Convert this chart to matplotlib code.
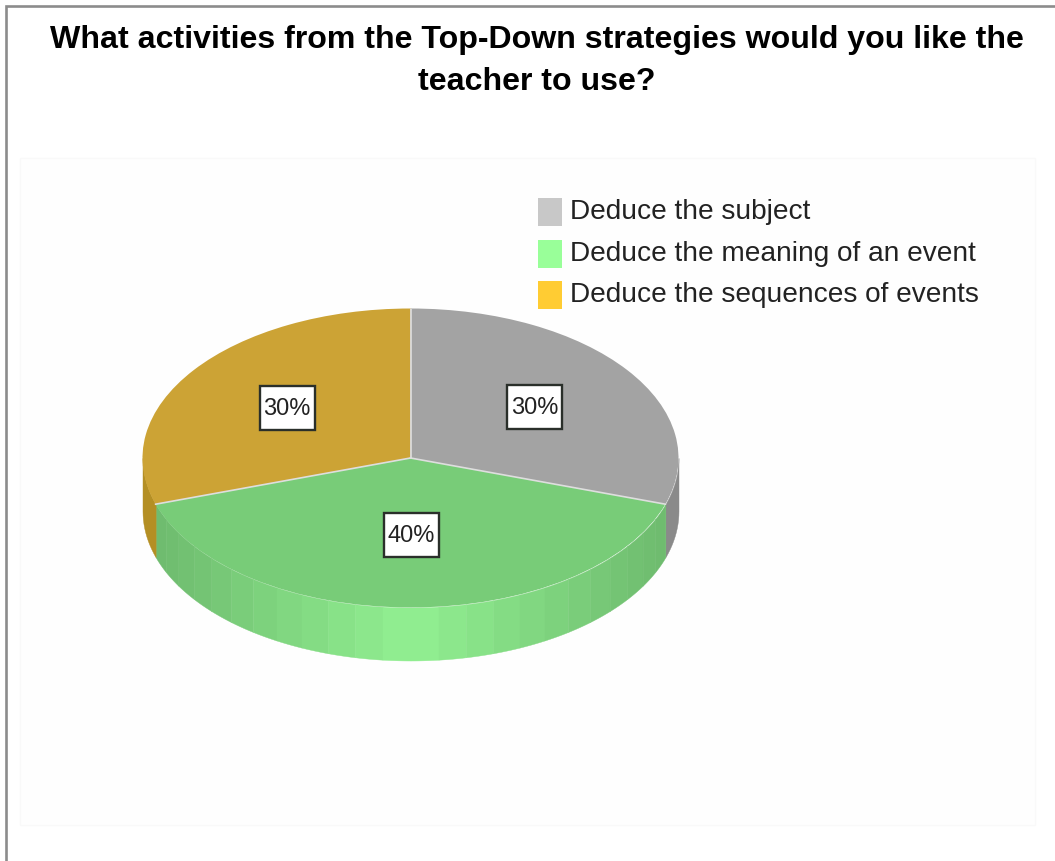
import numpy as np
import matplotlib
matplotlib.use("Agg")
import matplotlib.pyplot as plt
from matplotlib.patches import Rectangle

W = 1055
H = 861

categories = ["Deduce the subject", "Deduce the meaning of an event", "Deduce the sequences of events"]
values = [30, 40, 30]
labels = ["30%", "40%", "30%"]
legend_colors = ["#C8C8C8", "#99FF99", "#FFCC33"]
top_colors = ["#A3A3A3", "#78CC78", "#CCA335"]
side_colors = ["#8A8A8A", None, "#B48F24"]

TITLE = "What activities from the Top-Down strategies would you like the\nteacher to use?"
FONT = "Liberation Sans"


def pixel_axes(fig, zorder):
    # whole page in pixel coordinates, y pointing down
    ax = fig.add_axes([0, 0, 1, 1], zorder=zorder)
    ax.set_xlim(0, W)
    ax.set_ylim(H, 0)
    ax.axis("off")
    return ax


fig = plt.figure(figsize=(W / 100, H / 100), dpi=100)

back = pixel_axes(fig, 0)
back.add_patch(Rectangle((20, 158), 1015, 667, fc="#FEFEFE", ec="#F9F9F9", lw=1))
back.plot([6, 6, W], [H, 6, 6], color="#8C8C8C", lw=1.9, solid_joinstyle="miter")
back.text(537, 61, TITLE, ha="center", va="center", fontsize=23.15, fontweight="bold",
          family=FONT, color="black", linespacing=1.53)

# pie lives in its own axes, stretched to the ellipse of the top face
CX, CY, RX, RY, DEPTH = 410.5, 458, 268, 149.5, 53
pie_ax = fig.add_axes([(CX - RX) / W, 1 - (CY + RY) / H, 2 * RX / W, 2 * RY / H], zorder=1)
wedges, _ = pie_ax.pie(values, colors=top_colors, startangle=90, counterclock=False,
                       radius=1, wedgeprops={"linewidth": 0})
pie_ax.set_aspect("auto")
pie_ax.set_xlim(-1, 1)
pie_ax.set_ylim(-1, 1)

# pale dividers between the slices, no outline on the rim
for wedge in wedges:
    t = np.radians(wedge.theta1)
    pie_ax.plot([0, np.cos(t)], [0, np.sin(t)], color="#DEDEDE", lw=1.2, zorder=3)

depth = DEPTH / RY


def side_strip(a0, a1, color):
    t = np.radians(np.linspace(a0, a1, 12))
    pie_ax.fill_between(np.cos(t), np.sin(t), np.sin(t) - depth, color=color, lw=0.3, zorder=0, clip_on=False)


# sides are only visible on the lower half
for wedge, side in zip(wedges, side_colors):
    a0, a1 = wedge.theta1 % 360, wedge.theta2 % 360
    if a1 < a0:
        a1 += 360
    lo, hi = max(a0, 180), min(a1, 360)
    if side is not None:
        side_strip(lo, hi, side)
    else:
        steps = np.linspace(lo, hi, 25)
        for s0, s1 in zip(steps[:-1], steps[1:]):
            k = 1 - abs(np.cos(np.radians((s0 + s1) / 2)))
            g = np.array([0x6C, 0xB8, 0x6C]) * (1 - k) + np.array([0x92, 0xF0, 0x92]) * k
            side_strip(s0, s1, g / 255)

front = pixel_axes(fig, 2)

# value boxes
label_xy = [(534.5, 407), (411, 534.5), (287, 408)]
for (x, y), txt in zip(label_xy, labels):
    front.add_patch(Rectangle((x - 27.5, y - 22), 55, 44, fc="white", ec="#2A2F2A", lw=1.7))
    front.text(x, y + 1, txt, ha="center", va="center", fontsize=17, family=FONT, color="#222222")

# legend drawn by hand to hold the tight row spacing
rows = [212, 254, 295]
for y, col, name in zip(rows, legend_colors, categories):
    front.add_patch(Rectangle((538, y - 14), 24, 28, fc=col, ec="none"))
    front.text(570, y, name, ha="left", va="center", fontsize=20.2, family=FONT, color="#222222")

fig.savefig("out.png", dpi=100)
